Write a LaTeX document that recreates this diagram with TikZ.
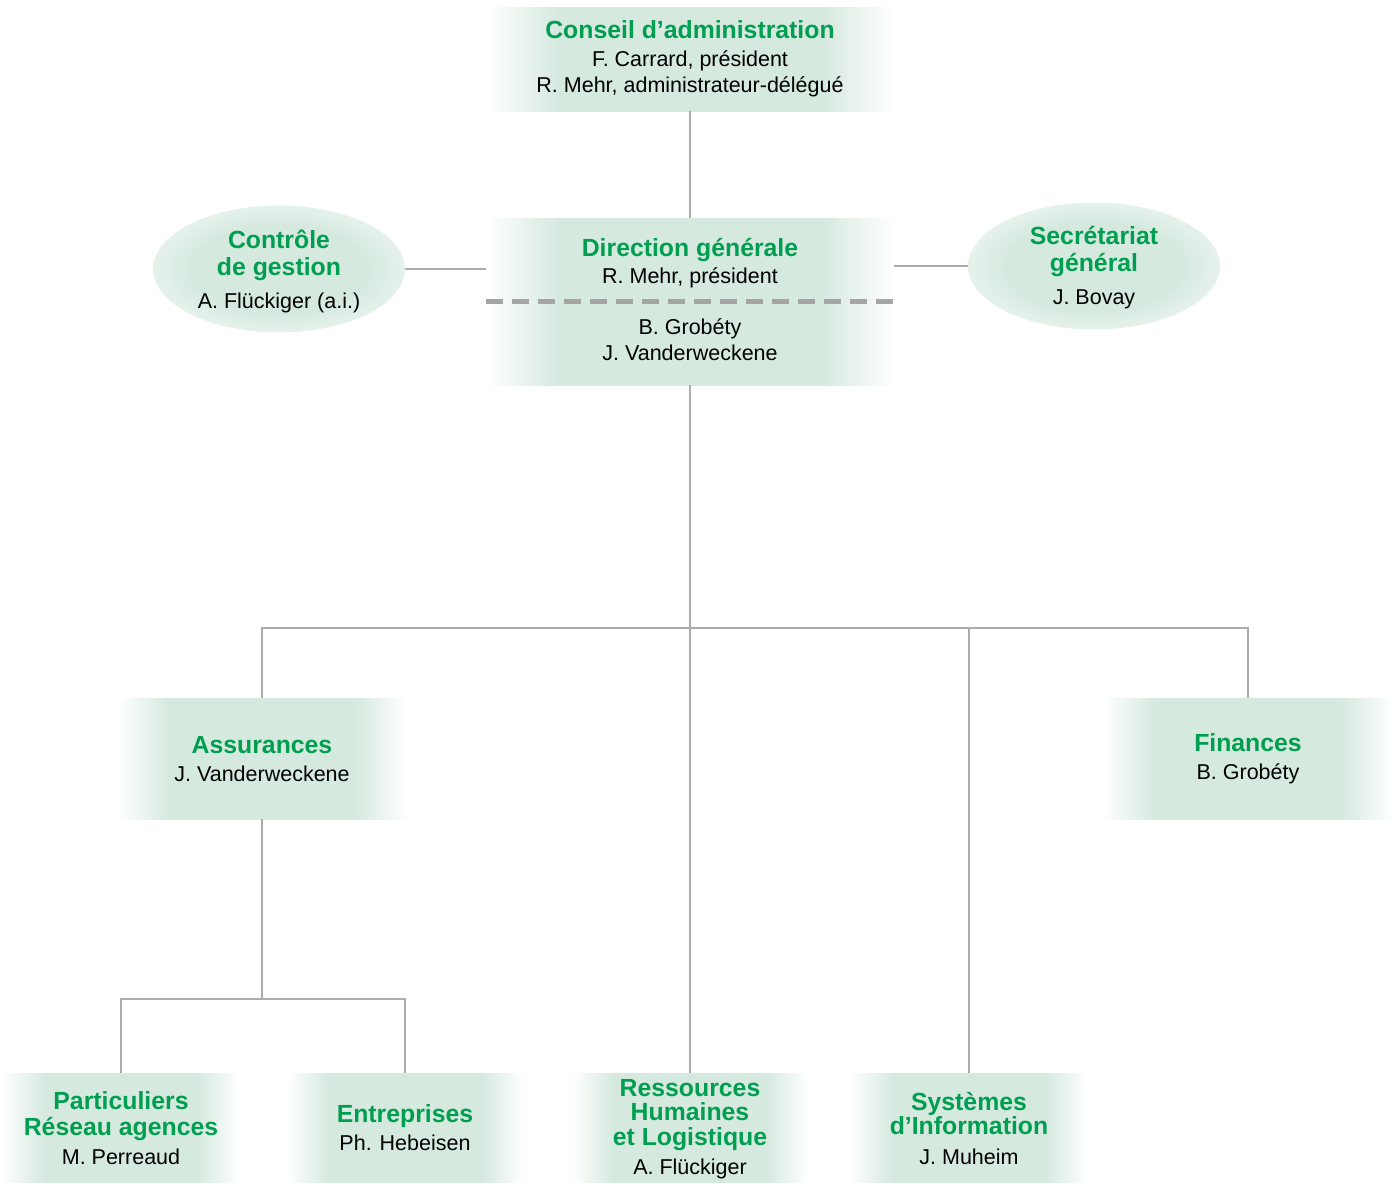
\documentclass[tikz,border=0pt]{standalone}
\usepackage{fontspec}
\setmainfont{Liberation Sans}
\usetikzlibrary{shapes.geometric}
\definecolor{tgreen}{RGB}{0,158,80}
\definecolor{lineg}{RGB}{172,172,172}
\definecolor{dashg}{RGB}{165,165,165}
\pgfdeclarehorizontalshading{boxshade}{100bp}{rgb(0bp)=(1,1,1); rgb(25bp)=(1,1,1); rgb(34bp)=(0.835,0.912,0.872); rgb(66bp)=(0.835,0.912,0.872); rgb(75bp)=(1,1,1); rgb(100bp)=(1,1,1)}
\pgfdeclareradialshading{ellshade}{\pgfpoint{0bp}{0bp}}{rgb(0bp)=(0.835,0.912,0.872); rgb(17bp)=(0.835,0.912,0.872); rgb(25bp)=(0.90,0.95,0.925); rgb(50bp)=(1,1,1)}
\newcommand{\G}{\color{tgreen}\bfseries\fontsize{24.8}{25}\selectfont}
\begin{document}
\begin{tikzpicture}[x=1pt,y=-1pt,
  boxnode/.style={rectangle, draw=none, shade, shading=boxshade, inner sep=0pt},
  ellnode/.style={ellipse, draw=none, shade, shading=ellshade, inner sep=0pt, minimum width=252pt, minimum height=127pt},
  txt/.style={align=center, inner sep=0pt, font=\fontsize{21.5}{25}\selectfont, text=black},
  conn/.style={draw=lineg, line width=1.3pt}]
\useasboundingbox (0,0) rectangle (1398,1191);
% shapes
\node[boxnode, minimum width=408pt, minimum height=104pt] (ca) at (690,59) {};
\node[boxnode, minimum width=408pt, minimum height=167pt] (dg) at (690,301.5) {};
\node[ellnode] (cg) at (279,269) {};
\node[ellnode] (sg) at (1094,266) {};
\node[boxnode, minimum width=289pt, minimum height=121pt] (as) at (262,758.5) {};
\node[boxnode, minimum width=289pt, minimum height=121pt] (fi) at (1248,758.5) {};
\node[boxnode, minimum width=236pt, minimum height=109pt] (pa) at (121,1127.5) {};
\node[boxnode, minimum width=236pt, minimum height=109pt] (en) at (405,1127.5) {};
\node[boxnode, minimum width=236pt, minimum height=109pt] (rh) at (690,1127.5) {};
\node[boxnode, minimum width=236pt, minimum height=109pt] (si) at (969,1127.5) {};
% dashed separator
\coordinate (dl) at (486,301);
\coordinate (dr) at (894,301);
\draw[dashg, line width=5pt, dash pattern=on 17pt off 9pt] (dl) -- (dr);
% texts
\node[txt] (tca) at (690,59) {{\G Conseil d’administration}\\[3pt] F. Carrard, président\\[1pt] R. Mehr, administrateur-délégué};
\node[txt] (tdg1) at (690,263) {{\G Direction générale}\\[2pt] R. Mehr, président};
\node[txt] (tdg2) at (690,340) {B. Grobéty\\[1pt] J. Vanderweckene};
\node[txt] (tcg) at (279,271) {{\G Contrôle}\\[2pt] {\G de gestion}\\[8pt] A. Flückiger (a.i.)};
\node[txt] (tsg) at (1094,268) {{\G Secrétariat}\\[2pt] {\G général}\\[8pt] J. Bovay};
\node[txt] (tas) at (262,759) {{\G Assurances}\\[3pt] J. Vanderweckene};
\node[txt] (tfi) at (1248,759) {{\G Finances}\\[3pt] B. Grobéty};
\node[txt] (tpa) at (121,1128) {{\G Particuliers}\\[1pt] {\G Réseau agences}\\[4pt] M. Perreaud};
\node[txt] (ten) at (405,1128) {{\G Entreprises}\\[3pt] Ph. Hebeisen};
\node[txt] (trh) at (690,1129) {{\G Ressources}\\[-0.5pt] {\G Humaines}\\[-0.5pt] {\G et Logistique}\\[4pt] A. Flückiger};
\node[txt] (tsi) at (969,1128) {{\G Systèmes}\\[-1pt] {\G d’Information}\\[5pt] J. Muheim};
% connectors
\coordinate (bus) at (690,628);
\coordinate (asbus) at (262,999);
\draw[conn] (ca.south) -- (dg.north);
\draw[conn] (cg.east) -- (cg.east -| dg.west);
\draw[conn] (sg.west) -- (sg.west -| dg.east);
\draw[conn] (dg.south) -- (rh.north);
\draw[conn] (as.north) |- (bus) -| (fi.north);
\draw[conn] (si.north) -- (si.north |- bus);
\draw[conn] (as.south) -- (asbus);
\draw[conn] (pa.north) |- (asbus) -| (en.north);
\end{tikzpicture}
\end{document}
